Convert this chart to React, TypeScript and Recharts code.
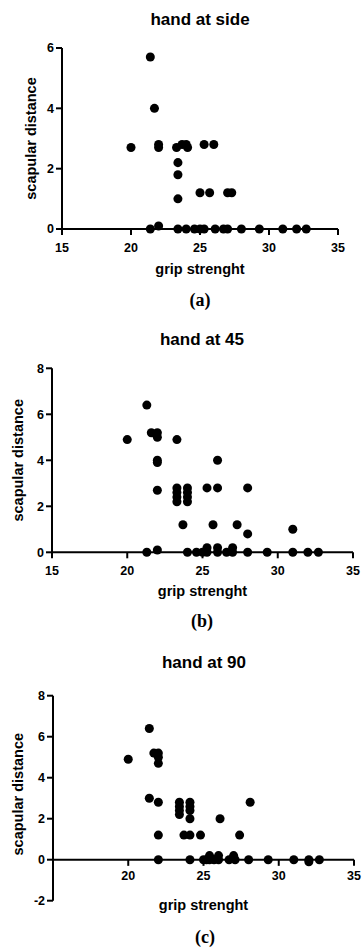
import React from 'react';
import { ScatterChart, Scatter, XAxis, YAxis, ZAxis, ReferenceLine } from 'recharts';

// ---- data ----
const sideGrip = [21.4, 21.7, 20.0, 22.0, 22.0, 23.3, 23.7, 24.0, 24.1, 25.3, 26.0, 23.4, 23.4, 23.4, 25.0, 25.7, 27.0, 27.3,
  21.4, 22.0, 23.4, 24.0, 24.6, 25.0, 25.3, 26.1, 26.7, 27.0, 28.0, 29.3, 31.0, 32.0, 32.7];
const sideDist = [5.7, 4.0, 2.7, 2.8, 2.7, 2.7, 2.8, 2.8, 2.7, 2.8, 2.8, 2.2, 1.8, 1.0, 1.2, 1.2, 1.2, 1.2,
  0, 0.1, 0, 0, 0, 0, 0, 0, 0, 0, 0, 0, 0, 0, 0];

const deg45Grip = [21.3, 20.0, 21.6, 22.0, 22.0, 23.3, 22.0, 22.0, 22.0, 23.3, 23.3, 23.3, 23.3, 24.0, 24.0, 24.0, 24.0,
  23.7, 25.3, 26.0, 26.0, 28.0, 25.7, 27.3, 28.0, 31.0,
  21.3, 22.0, 24.0, 24.6, 25.0, 25.3, 25.3, 26.0, 26.0, 26.6, 27.0, 27.0, 28.0, 29.3, 31.0, 32.0, 32.7];
const deg45Dist = [6.4, 4.9, 5.2, 5.2, 5.0, 4.9, 4.0, 3.9, 2.7, 2.8, 2.6, 2.4, 2.2, 2.8, 2.6, 2.4, 2.2,
  1.2, 2.8, 2.8, 4.0, 2.8, 1.2, 1.2, 0.8, 1.0,
  0, 0.1, 0, 0, 0, 0.2, 0, 0.2, 0, 0, 0.2, 0, 0, 0, 0, 0, 0];

const deg90Grip = [21.4, 20.0, 21.7, 22.0, 22.0, 22.0, 21.4, 22.0, 22.0, 22.0, 23.4, 23.4, 23.4, 23.4, 24.1, 24.1, 24.1, 24.1,
  23.7, 24.1, 24.8, 26.1, 28.1, 27.4,
  24.1, 25.0, 25.2, 25.4, 25.4, 25.7, 26.0, 26.0, 26.7, 27.0, 27.1, 28.0, 29.3, 31.0, 32.0, 32.0, 32.7];
const deg90Dist = [6.4, 4.9, 5.2, 5.2, 5.0, 4.7, 3.0, 2.8, 1.2, 0, 2.8, 2.6, 2.4, 2.2, 2.8, 2.6, 2.4, 2.0,
  1.2, 1.2, 1.2, 2.0, 2.8, 1.2,
  0, 0, 0, 0.2, 0, 0, 0.2, 0, 0, 0.2, 0, 0, 0, 0, 0, -0.1, 0];

const xTicks = [15, 20, 25, 30, 35];
const deg90XTicks = [20, 25, 30, 35];
const sideYTicks = [0, 2, 4, 6];
const deg45YTicks = [0, 2, 4, 6, 8];
const deg90YTicks = [-2, 0, 2, 4, 6, 8];

const titles = ['hand at side', 'hand at 45', 'hand at 90'];
const captions = ['(a)', '(b)', '(c)'];
const xLabel = 'grip strenght';
const yLabel = 'scapular distance';

const toPoints = (xs: number[], ys: number[]) => xs.map((x, i) => ({ x, y: ys[i] }));
const sideData = toPoints(sideGrip, sideDist);
const deg45Data = toPoints(deg45Grip, deg45Dist);
const deg90Data = toPoints(deg90Grip, deg90Dist);

// ---- styles ----
const SANS = '"Liberation Sans", Arial, sans-serif';
const SERIF = '"Liberation Serif", "Times New Roman", serif';
const tickStyle = { fill: '#000', fontSize: 12.5, fontWeight: 700, fontFamily: SANS };
const lineStyle = { stroke: '#000', strokeWidth: 2 };
const labelStyle = { fill: '#000', fontSize: 14.5, fontWeight: 700, fontFamily: SANS };

export default function App() {
  return (
    <div style={{ position: 'absolute', left: 0, top: 0, width: 363, height: 948, background: '#fff' }}>
      {/* (a) */}
      <div style={{ position: 'absolute', left: 0, top: 0 }}>
        <ScatterChart width={363} height={290} margin={{ top: 48, right: 25, bottom: 16, left: 0 }}>
          <ZAxis range={[50, 50]} />
          <XAxis type="number" dataKey="x" domain={[15, 35]} ticks={xTicks} interval={0} stroke="#000"
            height={45} tickSize={6} tickMargin={8} axisLine={lineStyle} tickLine={lineStyle} tick={tickStyle}
            label={{ value: xLabel, position: 'insideTop', offset: 34.7, ...labelStyle }} />
          <YAxis type="number" dataKey="y" domain={[0, 6]} ticks={sideYTicks} interval={0} stroke="#000"
            width={62} tickSize={6} tickMargin={2} axisLine={lineStyle} tickLine={lineStyle} tick={tickStyle}
            label={{ value: yLabel, angle: -90, position: 'center', dx: 0, ...labelStyle }} />
          <Scatter data={sideData} fill="#000" shape="circle" isAnimationActive={false} />
        </ScatterChart>
      </div>
      {/* (b) */}
      <div style={{ position: 'absolute', left: 0, top: 320 }}>
        <ScatterChart width={363} height={290} margin={{ top: 48.3, right: 10, bottom: 12.7, left: 0 }}>
          <ZAxis range={[60, 60]} />
          <XAxis type="number" dataKey="x" domain={[15, 35]} ticks={xTicks} interval={0} stroke="#000"
            height={45} tickSize={6} tickMargin={8} axisLine={lineStyle} tickLine={lineStyle} tick={tickStyle}
            label={{ value: xLabel, position: 'insideTop', offset: 33.4, ...labelStyle }} />
          <YAxis type="number" dataKey="y" domain={[0, 8]} ticks={deg45YTicks} interval={0} stroke="#000"
            width={52} tickSize={6} tickMargin={2} axisLine={lineStyle} tickLine={lineStyle} tick={tickStyle}
            label={{ value: yLabel, angle: -90, position: 'center', dx: -8, ...labelStyle }} />
          <Scatter data={deg45Data} fill="#000" shape="circle" isAnimationActive={false} />
        </ScatterChart>
      </div>
      {/* (c) */}
      <div style={{ position: 'absolute', left: 0, top: 630 }}>
        <ScatterChart width={363} height={300} margin={{ top: 65.7, right: 9, bottom: 9.3, left: 0 }}>
          <ZAxis range={[60, 60]} />
          <XAxis type="number" dataKey="x" domain={[15, 35]} ticks={xTicks}
            height={20} axisLine={false} tickLine={false} tick={false}
            label={{ value: xLabel, position: 'insideTop', offset: -1, ...labelStyle }} />
          <YAxis type="number" dataKey="y" domain={[-2, 8]} ticks={deg90YTicks} interval={0} stroke="#000"
            width={53} tickSize={6} tickMargin={2} axisLine={lineStyle} tickLine={lineStyle} tick={tickStyle}
            label={{ value: yLabel, angle: -90, position: 'center', dx: -8.5, dy: -4, ...labelStyle }} />
          <ReferenceLine y={0} stroke="#000" strokeWidth={2} />
          {deg90XTicks.map((t) => (
            <ReferenceLine key={t} segment={[{ x: t, y: 0 }, { x: t, y: -0.3 }]} stroke="#000" strokeWidth={2}
              label={{ value: String(t), position: 'bottom', offset: 5, ...tickStyle }} />
          ))}
          <Scatter data={deg90Data} fill="#000" shape="circle" isAnimationActive={false} />
        </ScatterChart>
      </div>
      {/* titles and captions */}
      <svg width={363} height={948} style={{ position: 'absolute', left: 0, top: 0, pointerEvents: 'none' }}>
        <text x={200} y={25} textAnchor="middle" fontFamily={SANS} fontWeight={700} fontSize={17} fill="#000">{titles[0]}</text>
        <text x={202} y={345} textAnchor="middle" fontFamily={SANS} fontWeight={700} fontSize={17} fill="#000">{titles[1]}</text>
        <text x={204} y={668} textAnchor="middle" fontFamily={SANS} fontWeight={700} fontSize={17} fill="#000">{titles[2]}</text>
        <text x={200} y={306} textAnchor="middle" fontFamily={SERIF} fontWeight={700} fontSize={18} fill="#000">{captions[0]}</text>
        <text x={202} y={627} textAnchor="middle" fontFamily={SERIF} fontWeight={700} fontSize={18} fill="#000">{captions[1]}</text>
        <text x={205} y={943} textAnchor="middle" fontFamily={SERIF} fontWeight={700} fontSize={18} fill="#000">{captions[2]}</text>
      </svg>
    </div>
  );
}
